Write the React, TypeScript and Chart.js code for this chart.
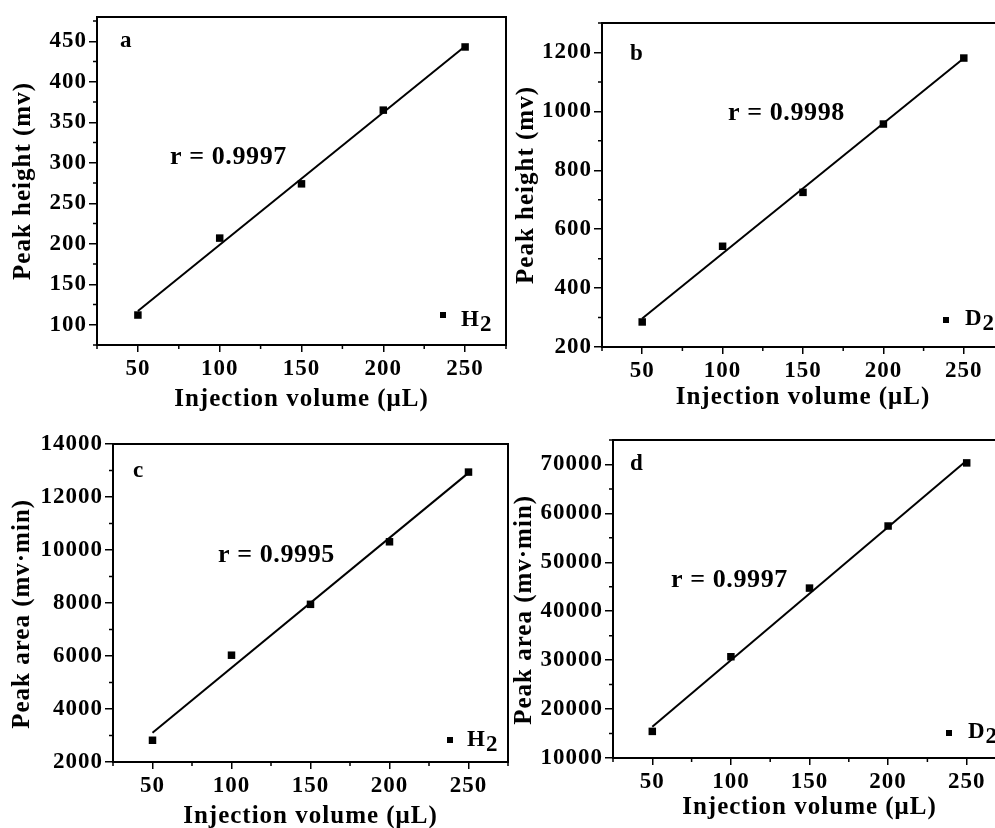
import React, { useEffect, useRef } from 'react';
import { Chart, registerables } from 'chart.js';
Chart.register(...registerables);

// ---------- data ----------
const injectionVolumes = [50, 100, 150, 200, 250];
const peakHeightH2 = [112, 207, 274, 365, 443];
const peakHeightD2 = [285, 542, 725, 957, 1181];
const peakAreaH2 = [2820, 6030, 7950, 10310, 12940];
const peakAreaD2 = [15440, 30700, 44730, 57420, 70320];

const fitVolumes = [50, 250];
const fitHeightH2 = [117, 444];
const fitHeightD2 = [297, 1180];
const fitAreaH2 = [3100, 12910];
const fitAreaD2 = [16400, 70800];

const xTickLabels = [50, 100, 150, 200, 250];
const yTicksHeightH2 = [100, 150, 200, 250, 300, 350, 400, 450];
const yTicksHeightD2 = [200, 400, 600, 800, 1000, 1200];
const yTicksAreaH2 = [2000, 4000, 6000, 8000, 10000, 12000, 14000];
const yTicksAreaD2 = [10000, 20000, 30000, 40000, 50000, 60000, 70000];

const panelLetters = ['a', 'b', 'c', 'd'];
const rTexts = ['r = 0.9997', 'r = 0.9998', 'r = 0.9995', 'r = 0.9997'];
const gasNames = ['H', 'D', 'H', 'D'];
const yTitles = ['Peak height (mv)', 'Peak height (mv)', 'Peak area (mv\u00b7min)   ', 'Peak area (mv\u00b7min)   '];
const xTitle = 'Injection volume (\u03bcL)';

const FONT = "'Liberation Serif', 'Times New Roman', serif";
const TITLE_SIZE = 25;
const TICK_SIZE = 23;
const SPACING = '1px';

type Panel = {
  values: number[];
  fit: number[];
  yTicks: number[];
  yMin: number;
  yMax: number;
  yMinor: number;
  canvas: { left: number; top: number; w: number; h: number };
  area: { l: number; t: number; r: number; b: number };
  yTitleCx: number;
  xTitleMid: number;
  letter: [number, number];
  rPos: [number, number];
  legend: [number, number, number, number];
};

const panels: Panel[] = [
  {
    values: peakHeightH2, fit: fitHeightH2, yTicks: yTicksHeightH2,
    yMin: 75, yMax: 480, yMinor: 25,
    canvas: { left: 0, top: 0, w: 515, h: 430 },
    area: { l: 97, t: 17, r: 506, b: 345 },
    yTitleCx: 24, xTitleMid: 400,
    letter: [120, 47], rPos: [170, 164], legend: [443, 315, 461, 326],
  },
  {
    values: peakHeightD2, fit: fitHeightD2, yTicks: yTicksHeightD2,
    yMin: 200, yMax: 1300, yMinor: 100,
    canvas: { left: 500, top: 0, w: 515, h: 430 },
    area: { l: 602, t: 23, r: 1004, b: 347 },
    yTitleCx: 527, xTitleMid: 398,
    letter: [630, 60], rPos: [728, 120], legend: [946, 320, 965, 325],
  },
  {
    values: peakAreaH2, fit: fitAreaH2, yTicks: yTicksAreaH2,
    yMin: 2000, yMax: 14000, yMinor: 1000,
    canvas: { left: 0, top: 415, w: 515, h: 430 },
    area: { l: 113, t: 444, r: 508, b: 762 },
    yTitleCx: 23, xTitleMid: 817,
    letter: [133, 477], rPos: [218, 562], legend: [450, 740, 467, 746],
  },
  {
    values: peakAreaD2, fit: fitAreaD2, yTicks: yTicksAreaD2,
    yMin: 10000, yMax: 75000, yMinor: 5000,
    canvas: { left: 500, top: 415, w: 515, h: 430 },
    area: { l: 613, t: 440, r: 1006, b: 758 },
    yTitleCx: 525, xTitleMid: 808,
    letter: [630, 470], rPos: [671, 587], legend: [949, 733, 968, 738],
  },
];

function setSpacing(chart: any, v: string) {
  try {
    (chart.ctx as any).letterSpacing = v;
  } catch (e) {
    /* ignore */
  }
}

function PanelChart({ idx }: { idx: number }) {
  const ref = useRef<HTMLCanvasElement | null>(null);
  const p = panels[idx];
  useEffect(() => {
    if (!ref.current) return;
    const cv = p.canvas;
    const ox = cv.left;
    const oy = cv.top;
    const titleLH = TITLE_SIZE * 1.2;

    const decor = {
      id: 'decor' + idx,
      beforeUpdate(chart: any) { setSpacing(chart, SPACING); },
      beforeLayout(chart: any) { setSpacing(chart, SPACING); },
      beforeDraw(chart: any) { setSpacing(chart, SPACING); },
      afterDraw(chart: any) {
        const ctx = chart.ctx;
        const ca = chart.chartArea;
        const xs = chart.scales.x;
        const ys = chart.scales.y;
        ctx.save();
        // frame
        ctx.strokeStyle = '#000';
        ctx.lineWidth = 2;
        ctx.strokeRect(ca.left, ca.top, ca.right - ca.left, ca.bottom - ca.top);
        // minor ticks
        ctx.lineWidth = 1.5;
        ctx.beginPath();
        for (let v = 25; v <= 275; v += 25) {
          if (xTickLabels.includes(v)) continue;
          const px = xs.getPixelForValue(v);
          ctx.moveTo(px, ca.bottom);
          ctx.lineTo(px, ca.bottom + 4);
        }
        for (let v = Math.ceil(p.yMin / p.yMinor) * p.yMinor; v <= p.yMax; v += p.yMinor) {
          if (p.yTicks.includes(v)) continue;
          const py = ys.getPixelForValue(v);
          ctx.moveTo(ca.left, py);
          ctx.lineTo(ca.left - 4, py);
        }
        ctx.stroke();
        // texts
        ctx.fillStyle = '#000';
        ctx.textBaseline = 'alphabetic';
        ctx.textAlign = 'left';
        ctx.letterSpacing = '0px';
        ctx.font = `bold 23px ${FONT}`;
        ctx.fillText(panelLetters[idx], p.letter[0] - ox, p.letter[1] - oy);
        ctx.letterSpacing = '0.6px';
        ctx.font = `bold 26px ${FONT}`;
        ctx.fillText(rTexts[idx], p.rPos[0] - ox, p.rPos[1] - oy);
        // legend
        const [sx, sy, tx, tb] = p.legend;
        ctx.fillRect(sx - ox - 3, sy - oy - 3, 6, 6);
        ctx.letterSpacing = '0px';
        ctx.font = `bold 23px ${FONT}`;
        ctx.fillText(gasNames[idx], tx - ox, tb - oy);
        const w = ctx.measureText(gasNames[idx]).width;
        ctx.fillText('2', tx - ox + w + 1, tb - oy + 5);
        ctx.restore();
      },
    };

    const chart = new Chart(ref.current, {
      type: 'scatter',
      data: {
        datasets: [
          {
            type: 'line',
            data: fitVolumes.map((x, i) => ({ x, y: p.fit[i] })),
            borderColor: '#000',
            borderWidth: 2,
            pointRadius: 0,
            fill: false,
            tension: 0,
          } as any,
          {
            type: 'scatter',
            data: injectionVolumes.map((x, i) => ({ x, y: p.values[i] })),
            pointStyle: 'rect',
            pointRadius: 5.3,
            backgroundColor: '#000',
            borderColor: '#000',
            borderWidth: 0,
          } as any,
        ],
      },
      options: {
        responsive: false,
        animation: false,
        devicePixelRatio: 1,
        layout: {
          padding: {
            top: p.area.t - oy,
            right: ox + cv.w - p.area.r,
            left: 0,
            bottom: 0,
          },
        },
        plugins: { legend: { display: false }, tooltip: { enabled: false } },
        scales: {
          x: {
            type: 'linear',
            min: 25,
            max: 275,
            afterFit: (s: any) => { s.height = oy + cv.h - p.area.b; },
            ticks: {
              stepSize: 25,
              autoSkip: false,
              maxRotation: 0,
              includeBounds: false,
              padding: 3,
              color: '#000',
              font: { family: FONT, size: TICK_SIZE, weight: 'bold' },
              callback: (v: any) => (xTickLabels.includes(Number(v)) ? String(v) : ''),
            },
            grid: {
              drawOnChartArea: false,
              drawTicks: true,
              tickLength: 7,
              lineWidth: 1.5,
              color: (c: any) => (c.tick && xTickLabels.includes(c.tick.value) ? '#000' : 'rgba(0,0,0,0)'),
            },
            border: { display: true, color: '#000', width: 2 },
            title: {
              display: true,
              text: xTitle,
              color: '#000',
              font: { family: FONT, size: TITLE_SIZE, weight: 'bold' },
              padding: { top: 0, bottom: oy + cv.h - p.xTitleMid - titleLH / 2 },
            },
          },
          y: {
            type: 'linear',
            min: p.yMin,
            max: p.yMax,
            afterFit: (s: any) => { s.width = p.area.l - ox; },
            ticks: {
              stepSize: p.yMinor,
              autoSkip: false,
              includeBounds: false,
              padding: 2,
              color: '#000',
              font: { family: FONT, size: TICK_SIZE, weight: 'bold' },
              callback: (v: any) => (p.yTicks.includes(Number(v)) ? String(v) : ''),
            },
            grid: {
              drawOnChartArea: false,
              drawTicks: true,
              tickLength: 8,
              lineWidth: 1.5,
              color: (c: any) => (c.tick && p.yTicks.includes(c.tick.value) ? '#000' : 'rgba(0,0,0,0)'),
            },
            border: { display: true, color: '#000', width: 2 },
            title: {
              display: true,
              text: yTitles[idx],
              color: '#000',
              font: { family: FONT, size: TITLE_SIZE, weight: 'bold' },
              padding: { top: p.yTitleCx - ox - titleLH / 2, bottom: 0 },
            },
          },
        },
      } as any,
      plugins: [decor],
    });
    return () => chart.destroy();
  }, [idx]);

  const cv = p.canvas;
  return (
    <canvas
      ref={ref}
      width={cv.w}
      height={cv.h}
      style={{ position: 'absolute', left: cv.left, top: cv.top, width: cv.w, height: cv.h }}
    />
  );
}

export default function App() {
  return (
    <div
      style={{
        position: 'absolute',
        left: 0,
        top: 0,
        width: 995,
        height: 828,
        overflow: 'hidden',
        background: '#fff',
      }}
    >
      {panels.map((_, i) => (
        <PanelChart key={i} idx={i} />
      ))}
    </div>
  );
}
